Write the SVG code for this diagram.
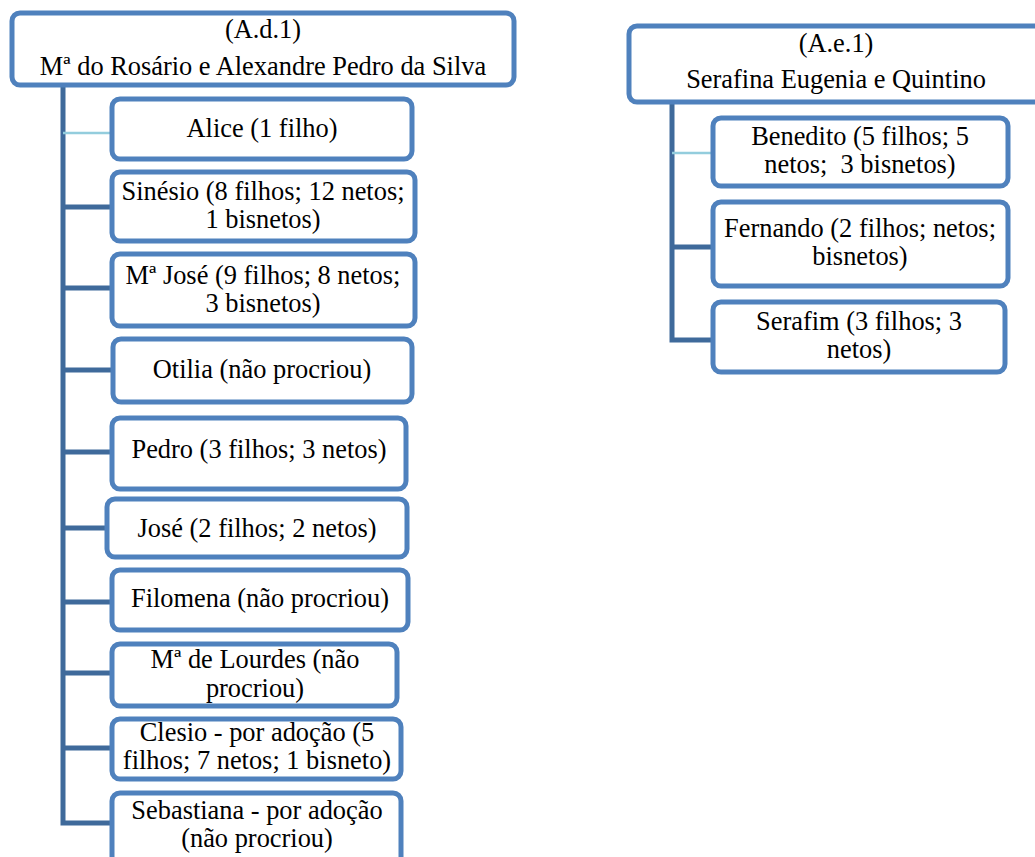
<svg xmlns="http://www.w3.org/2000/svg" width="1035" height="857" viewBox="0 0 1035 857">
<style>
.box{fill:#fff;stroke:#4f81bd;stroke-width:5;}
.t{font-family:'Liberation Serif','DejaVu Serif','Times New Roman',serif;font-size:26.4px;fill:#000;text-anchor:middle;}
.c{fill:none;stroke:#3f6a9b;stroke-width:5;stroke-linecap:square;}
.cl{fill:none;stroke:#93cddd;stroke-width:2.5;}
</style>
<rect width="1035" height="857" fill="#fff"/>
<g id="connectors">
<path class="c" d="M63 86 V823 M63 207 H112 M63 288 H112 M63 370 H112 M63 452 H112 M63 528 H107 M63 602 H112 M63 673 H112 M63 748 H112 M63 823 H112"/>
<path class="cl" d="M63 133 H112"/>
<path class="c" d="M672 103 V340 M672 247 H712 M672 340 H712"/>
<path class="cl" d="M672 153 H712"/>
</g>
<g id="ad1"><rect class="box" x="12" y="13" width="502" height="72" rx="8"/>
<text class="t" x="263" y="38">(A.d.1)</text><text class="t" x="263" y="75">Mª do Rosário e Alexandre Pedro da Silva</text></g>
<g id="alice"><rect class="box" x="112" y="99" width="300" height="60" rx="8"/><text class="t" x="262" y="137">Alice (1 filho)</text></g>
<g id="sinesio"><rect class="box" x="112" y="172" width="303" height="69" rx="8"/><text class="t" x="263" y="200">Sinésio (8 filhos; 12 netos;</text><text class="t" x="263" y="228">1 bisnetos)</text></g>
<g id="mjose"><rect class="box" x="112" y="254" width="303" height="72" rx="8"/><text class="t" x="263" y="284">Mª José (9 filhos; 8 netos;</text><text class="t" x="263" y="312">3 bisnetos)</text></g>
<g id="otilia"><rect class="box" x="113" y="339" width="299" height="63" rx="8"/><text class="t" x="262" y="378">Otilia (não procriou)</text></g>
<g id="pedro"><rect class="box" x="112" y="418" width="294" height="71" rx="8"/><text class="t" x="259" y="458">Pedro (3 filhos; 3 netos)</text></g>
<g id="jose"><rect class="box" x="107" y="499" width="300" height="58" rx="8"/><text class="t" x="257" y="537">José (2 filhos; 2 netos)</text></g>
<g id="filomena"><rect class="box" x="112" y="570" width="296" height="60" rx="8"/><text class="t" x="260" y="607">Filomena (não procriou)</text></g>
<g id="lourdes"><rect class="box" x="112" y="644" width="285" height="62" rx="8"/><text class="t" x="255" y="668">Mª de Lourdes (não</text><text class="t" x="255" y="697">procriou)</text></g>
<g id="clesio"><rect class="box" x="112" y="719" width="289" height="60" rx="8"/><text class="t" x="257" y="741">Clesio - por adoção (5</text><text class="t" x="257" y="769">filhos; 7 netos; 1 bisneto)</text></g>
<g id="sebastiana"><rect class="box" x="112" y="793" width="289" height="80" rx="8"/><text class="t" x="257" y="819">Sebastiana - por adoção</text><text class="t" x="257" y="847">(não procriou)</text></g>
<g id="ae1"><rect class="box" x="629" y="26" width="420" height="76" rx="8"/>
<text class="t" x="836" y="52">(A.e.1)</text><text class="t" x="836" y="88">Serafina Eugenia e Quintino</text></g>
<g id="benedito"><rect class="box" x="713" y="118" width="295" height="68" rx="8"/><text class="t" x="860" y="145">Benedito (5 filhos; 5</text><text class="t" x="860" y="173" xml:space="preserve">netos;  3 bisnetos)</text></g>
<g id="fernando"><rect class="box" x="713" y="202" width="295" height="84" rx="8"/><text class="t" x="860" y="237">Fernando (2 filhos; netos;</text><text class="t" x="860" y="265">bisnetos)</text></g>
<g id="serafim"><rect class="box" x="713" y="302" width="292" height="70" rx="8"/><text class="t" x="859" y="330">Serafim (3 filhos; 3</text><text class="t" x="859" y="358">netos)</text></g>
</svg>
